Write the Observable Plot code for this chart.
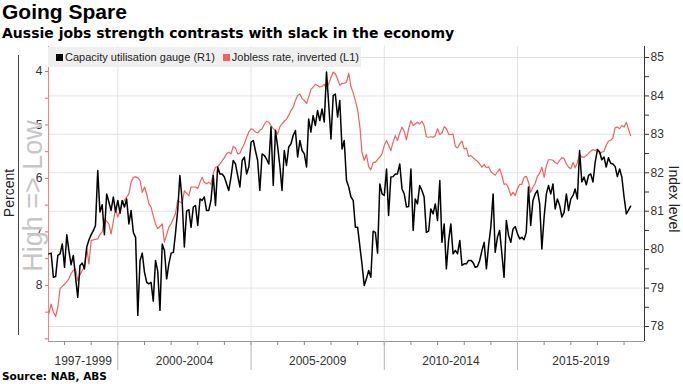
<!DOCTYPE html>
<html>
<head>
<meta charset="utf-8">
<script src="https://cdn.jsdelivr.net/npm/d3@7"></script>
<script src="https://cdn.jsdelivr.net/npm/@observablehq/plot@0.6"></script>
<style>
  body { margin: 0; background: #fff; }
  #wrap { position: relative; width: 683px; height: 384px; overflow: hidden; font-family: "Liberation Sans", Arial, sans-serif; color: #222; }
  #chart { position: absolute; left: 0; top: 0; }
  .abs { position: absolute; white-space: nowrap; }
  #title { left: 2px; top: 0px; font: bold 21px "Liberation Sans", sans-serif; color: #000; }
  #subtitle { left: 2px; top: 25px; font: bold 14px "DejaVu Sans", sans-serif; color: #000; }
  #source { left: 2px; top: 370px; font: bold 10.5px "DejaVu Sans", sans-serif; color: #000; }
  #legend { left: 48px; top: 47px; width: 313px; height: 20px; background: #efefef; font-size: 11px; line-height: 20px; }
  #legend span.sw { display: inline-block; width: 7px; height: 7px; margin-right: 2px; vertical-align: 0px; }
  #percent { font-size: 14px; color: #222; left: 9px; top: 193px; transform: translate(-50%, -50%) rotate(-90deg); }
  #highlow { font-size: 27px; color: #c6c6c6; left: 33px; top: 196px; transform: translate(-50%, -50%) rotate(-90deg); line-height: 1; }
  #index { font-size: 14px; color: #222; left: 674px; top: 199px; transform: translate(-50%, -50%) rotate(90deg); }
  #bracket { left: 18px; top: 55px; width: 0; height: 280px; border-left: 1px solid #444; }
</style>
</head>
<body>
<div id="wrap">
  <div id="chart"></div>
  <div class="abs" id="title">Going Spare</div>
  <div class="abs" id="subtitle">Aussie jobs strength contrasts with slack in the economy</div>
  <div class="abs" id="legend"></div>
  <div class="abs" id="bracket"></div>
  <div class="abs" id="percent">Percent</div>
  <div class="abs" id="highlow">High =&gt; Low</div>
  <div class="abs" id="index">Index level</div>
  <div class="abs" id="source">Source: NAB, ABS</div>
</div>
<script>
// ---- Data (monthly, starting June 1997) ----
const seriesStart = [1997, 5]; // year, month index (0 = Jan)

// Capacity utilisation gauge (R1), index level
const capacity = [
  79.89, 79.91, 79.28, 79.30, 79.85, 79.89, 80.15, 79.54, 80.39, 79.98, 79.61, 79.85, 79.28, 78.76, 79.59, 79.65,
  79.50, 80.07, 80.25, 80.39, 80.50, 80.63, 82.06, 80.98, 81.17, 80.39, 81.45, 81.24, 81.02, 81.37, 80.98, 81.28,
  80.95, 81.28, 81.11, 81.32, 80.67, 81.02, 80.45, 80.32, 78.29, 79.72, 79.91, 79.41, 79.15, 79.11, 79.15, 78.66,
  79.72, 79.44, 78.42, 80.15, 79.98, 79.24, 79.63, 79.91, 79.93, 80.41, 81.02, 81.93, 81.28, 80.07, 81.00, 81.04,
  80.58, 81.11, 81.15,
  80.63, 81.32, 81.28, 81.37, 81.02, 81.02, 81.28, 81.93, 81.15, 82.15, 81.97, 81.97, 81.89, 81.71, 81.54, 81.89,
  82.32, 82.23, 81.93, 81.63, 82.32, 82.41, 81.97, 82.15, 82.80, 82.84, 82.58, 82.32, 81.54, 82.49, 82.45, 82.36,
  82.23, 83.19, 81.67, 83.10, 82.67, 82.15, 81.54, 82.58, 82.19, 82.67, 82.75, 82.97, 83.10, 82.41, 82.84, 82.58,
  82.49, 82.15, 83.40, 83.06, 83.49, 83.23, 83.62, 83.36, 83.66, 83.32, 84.62, 83.79, 82.88, 84.01, 84.05, 83.45,
  83.88,
  82.62, 82.84, 81.80, 81.63, 81.37, 81.28, 80.58, 80.58, 80.07, 79.63, 79.07, 79.24, 79.46, 79.28, 80.48, 80.45,
  79.91, 81.71, 81.45, 81.41, 82.10, 80.89, 81.89, 81.90, 81.97, 81.97, 82.23, 81.58, 81.45, 81.11, 81.12, 82.10,
  80.50, 81.32, 81.19, 81.67, 81.54, 81.37, 80.45, 80.48, 81.06, 80.93, 81.19, 80.76, 81.80, 80.19, 80.67, 79.50,
  80.24, 80.67, 79.89, 79.98, 79.89, 80.24, 79.59, 79.63, 79.63, 79.72, 79.72, 79.67, 79.54, 79.56, 79.72, 79.98,
  80.19,
  79.50, 80.11, 80.60, 81.45, 79.93, 80.32, 80.50, 79.89, 79.28, 80.76, 80.37, 80.19, 80.54, 80.60, 80.41, 80.28,
  80.32, 80.26, 80.45, 81.63, 80.63, 81.28, 81.45, 81.54, 81.19, 80.02, 80.85, 81.45, 81.67, 81.45, 81.71, 81.06,
  81.32, 81.15, 80.85, 80.97, 81.45, 81.02, 81.32, 81.41, 81.58, 81.32, 82.58, 81.76, 81.89, 81.69, 81.93, 81.97,
  81.76, 82.28, 82.60, 82.54, 82.34, 82.41, 82.15, 82.39, 82.25, 82.23, 82.16, 81.90, 82.10, 81.89, 81.37, 80.93,
  81.02, 81.13
];

// Jobless rate, inverted (L1), percent
const jobless = [
  8.53, 8.35, 8.50, 8.58, 8.41, 8.06, 8.02, 7.98, 7.93, 7.88, 7.78, 7.72, 7.69, 7.91, 7.80, 7.72,
  7.65, 7.29, 7.60, 7.16, 7.15, 7.14, 7.13, 7.05, 7.00, 6.76, 6.80, 6.85, 7.04, 6.80, 6.57, 6.72,
  6.60, 6.47, 6.41, 6.35, 6.29, 6.07, 5.98, 5.97, 5.99, 6.04, 6.26, 6.16, 6.30, 6.47, 6.54, 6.70,
  6.85, 6.94, 6.90, 6.85, 7.19, 7.05, 6.91, 6.85, 6.75, 6.66, 6.41, 6.44, 6.47, 6.23, 6.28, 6.32,
  6.16, 6.16, 6.16,
  6.19, 6.07, 5.98, 6.07, 6.10, 6.07, 6.11, 5.91, 5.79, 5.78, 5.73, 5.67, 5.61, 5.54, 5.51, 5.54,
  5.40, 5.43, 5.54, 5.53, 5.43, 5.35, 5.23, 5.13, 5.07, 5.09, 5.13, 5.15, 5.10, 5.07, 4.99, 4.93,
  4.95, 5.01, 5.07, 5.10, 5.17, 5.03, 4.98, 4.93, 4.89, 4.82, 4.73, 4.67, 4.54, 4.45, 4.42, 4.51,
  4.54, 4.60, 4.48, 4.34, 4.29, 4.24, 4.26, 4.29, 4.28, 4.24, 4.32, 4.23, 4.11, 4.01, 4.04, 4.14,
  4.26,
  4.22, 4.22, 4.20, 4.03, 4.28, 4.40, 4.55, 4.72, 5.04, 5.51, 5.66, 5.55, 5.78, 5.84, 5.70, 5.70,
  5.65, 5.60, 5.54, 5.38, 5.29, 5.38, 5.48, 5.32, 5.20, 5.29, 5.15, 5.04, 5.12, 5.28, 5.07, 4.92,
  5.01, 4.98, 4.95, 4.98, 4.93, 5.01, 5.22, 5.23, 5.22, 5.23, 5.20, 5.07, 5.18, 5.15, 5.03, 5.07,
  5.17, 5.18, 5.17, 5.40, 5.43, 5.35, 5.30, 5.45, 5.43, 5.59, 5.57, 5.61, 5.65, 5.68, 5.73, 5.79,
  5.74,
  5.80, 5.78, 5.87, 5.91, 5.94, 5.88, 5.82, 5.94, 6.11, 6.10, 6.19, 6.32, 6.26, 6.32, 6.19, 6.11,
  6.11, 5.98, 5.96, 6.07, 6.26, 6.16, 6.09, 5.96, 5.90, 5.79, 5.98, 5.76, 5.65, 5.65, 5.66, 5.70,
  5.73, 5.66, 5.61, 5.63, 5.73, 5.79, 5.82, 5.70, 5.80, 5.70, 5.55, 5.60, 5.60, 5.57, 5.53, 5.49,
  5.46, 5.48, 5.45, 5.54, 5.51, 5.49, 5.38, 5.30, 5.29, 5.24, 5.05, 5.04, 5.07, 5.01, 5.04, 4.95,
  5.07, 5.20
];

// Axis values
const leftTicks = [4, 4.5, 5, 5.5, 6, 6.5, 7, 7.5, 8, 8.5, 9];
const leftLabels = [4, 5, 6, 7, 8];
const rightTicks = [78, 78.5, 79, 79.5, 80, 80.5, 81, 81.5, 82, 82.5, 83, 83.5, 84, 84.5, 85];
const rightLabels = [78, 79, 80, 81, 82, 83, 84, 85];
const periodLabels = ["1997-1999", "2000-2004", "2005-2009", "2010-2014", "2015-2019"];
const periodStarts = [1997, 2000, 2005, 2010, 2015];
const periodEnds = [2000, 2005, 2010, 2015, 2020];
const dividerYears = [2000, 2005, 2010, 2015];

const seriesNames = ["Capacity utilisation gauge (R1)", "Jobless rate, inverted (L1)"];
const seriesColors = ["#000000", "#f26161"];

// ---- Build ----
const monthDate = i => new Date(Date.UTC(seriesStart[0], seriesStart[1] + i, 1));
const capData = capacity.map((v, i) => ({date: monthDate(i), v}));
const jobData = jobless.map((v, i) => ({date: monthDate(i), v}));

const xDomain = [new Date(Date.UTC(1997, 4, 26)), new Date(Date.UTC(2019, 9, 8))];
const yDomain = [77.61, 85.286];
const leftDomain = [3.532, 9.05];
const y2 = d3.scaleLinear(leftDomain, [yDomain[1], yDomain[0]]);

const yearDate = y => new Date(Date.UTC(y, 0, 1));
const yearTicks = d3.range(1998, 2020).map(yearDate);
const dividers = dividerYears.map(yearDate);
const periods = periodLabels.map((label, i) => {
  const a = Math.max(+yearDate(periodStarts[i]), +xDomain[0]);
  const b = Math.min(+yearDate(periodEnds[i]), +xDomain[1]);
  return {label, mid: new Date((a + b) / 2)};
});

const red = seriesColors[1];

const plot = Plot.plot({
  width: 683,
  height: 384,
  marginTop: 46,
  marginBottom: 43,
  marginLeft: 48,
  marginRight: 39,
  x: {type: "utc", domain: xDomain},
  y: {domain: yDomain},
  style: {fontFamily: "Liberation Sans, Arial, sans-serif", fontSize: "12px", color: "#333", background: "transparent"},
  marks: [
    Plot.gridY(rightLabels, {stroke: "#e3e3e3", strokeOpacity: 1}),
    Plot.gridX(dividers, {stroke: "#e3e3e3", strokeOpacity: 1}),
    Plot.ruleY([yDomain[0]], {stroke: "#9a9a9a"}),
    Plot.ruleX([xDomain[0]], {stroke: red, strokeOpacity: 0.8}),
    Plot.ruleX([xDomain[1]], {stroke: "#333"}),
    Plot.axisY(leftTicks.map(d => y2(d)), {
      anchor: "left", tickSize: 3, tickPadding: 3, stroke: red, fill: "#333", fontSize: 12,
      tickFormat: d => { const r = Math.round(y2.invert(d) * 2) / 2; return leftLabels.includes(r) ? String(r) : ""; },
      label: null
    }),
    Plot.axisY(rightTicks, {
      anchor: "right", tickSize: 4, tickPadding: 2, stroke: "#333", fill: "#333", fontSize: 12,
      tickFormat: d => rightLabels.includes(d) ? String(d) : "",
      label: null
    }),
    Plot.axisX(yearTicks, {anchor: "bottom", tickSize: 4, stroke: "#888", tickFormat: () => "", label: null}),
    Plot.axisX(dividers, {anchor: "bottom", tickSize: 29, stroke: "#b5b5b5", tickFormat: () => "", label: null}),
    Plot.text(periods, {x: "mid", text: "label", frameAnchor: "bottom", dy: 23, fontSize: 12, fill: "#333"}),
    Plot.lineY(jobData, {x: "date", y: d => y2(d.v), stroke: red, strokeWidth: 1.2}),
    Plot.lineY(capData, {x: "date", y: "v", stroke: seriesColors[0], strokeWidth: 1.5})
  ]
});
document.getElementById("chart").appendChild(plot);

const legend = document.getElementById("legend");
legend.innerHTML = seriesNames.map((n, i) =>
  `<span style="margin-left:8px"><span class="sw" style="background:${seriesColors[i]}"></span>${n}</span>`
).join("");
</script>
</body>
</html>
